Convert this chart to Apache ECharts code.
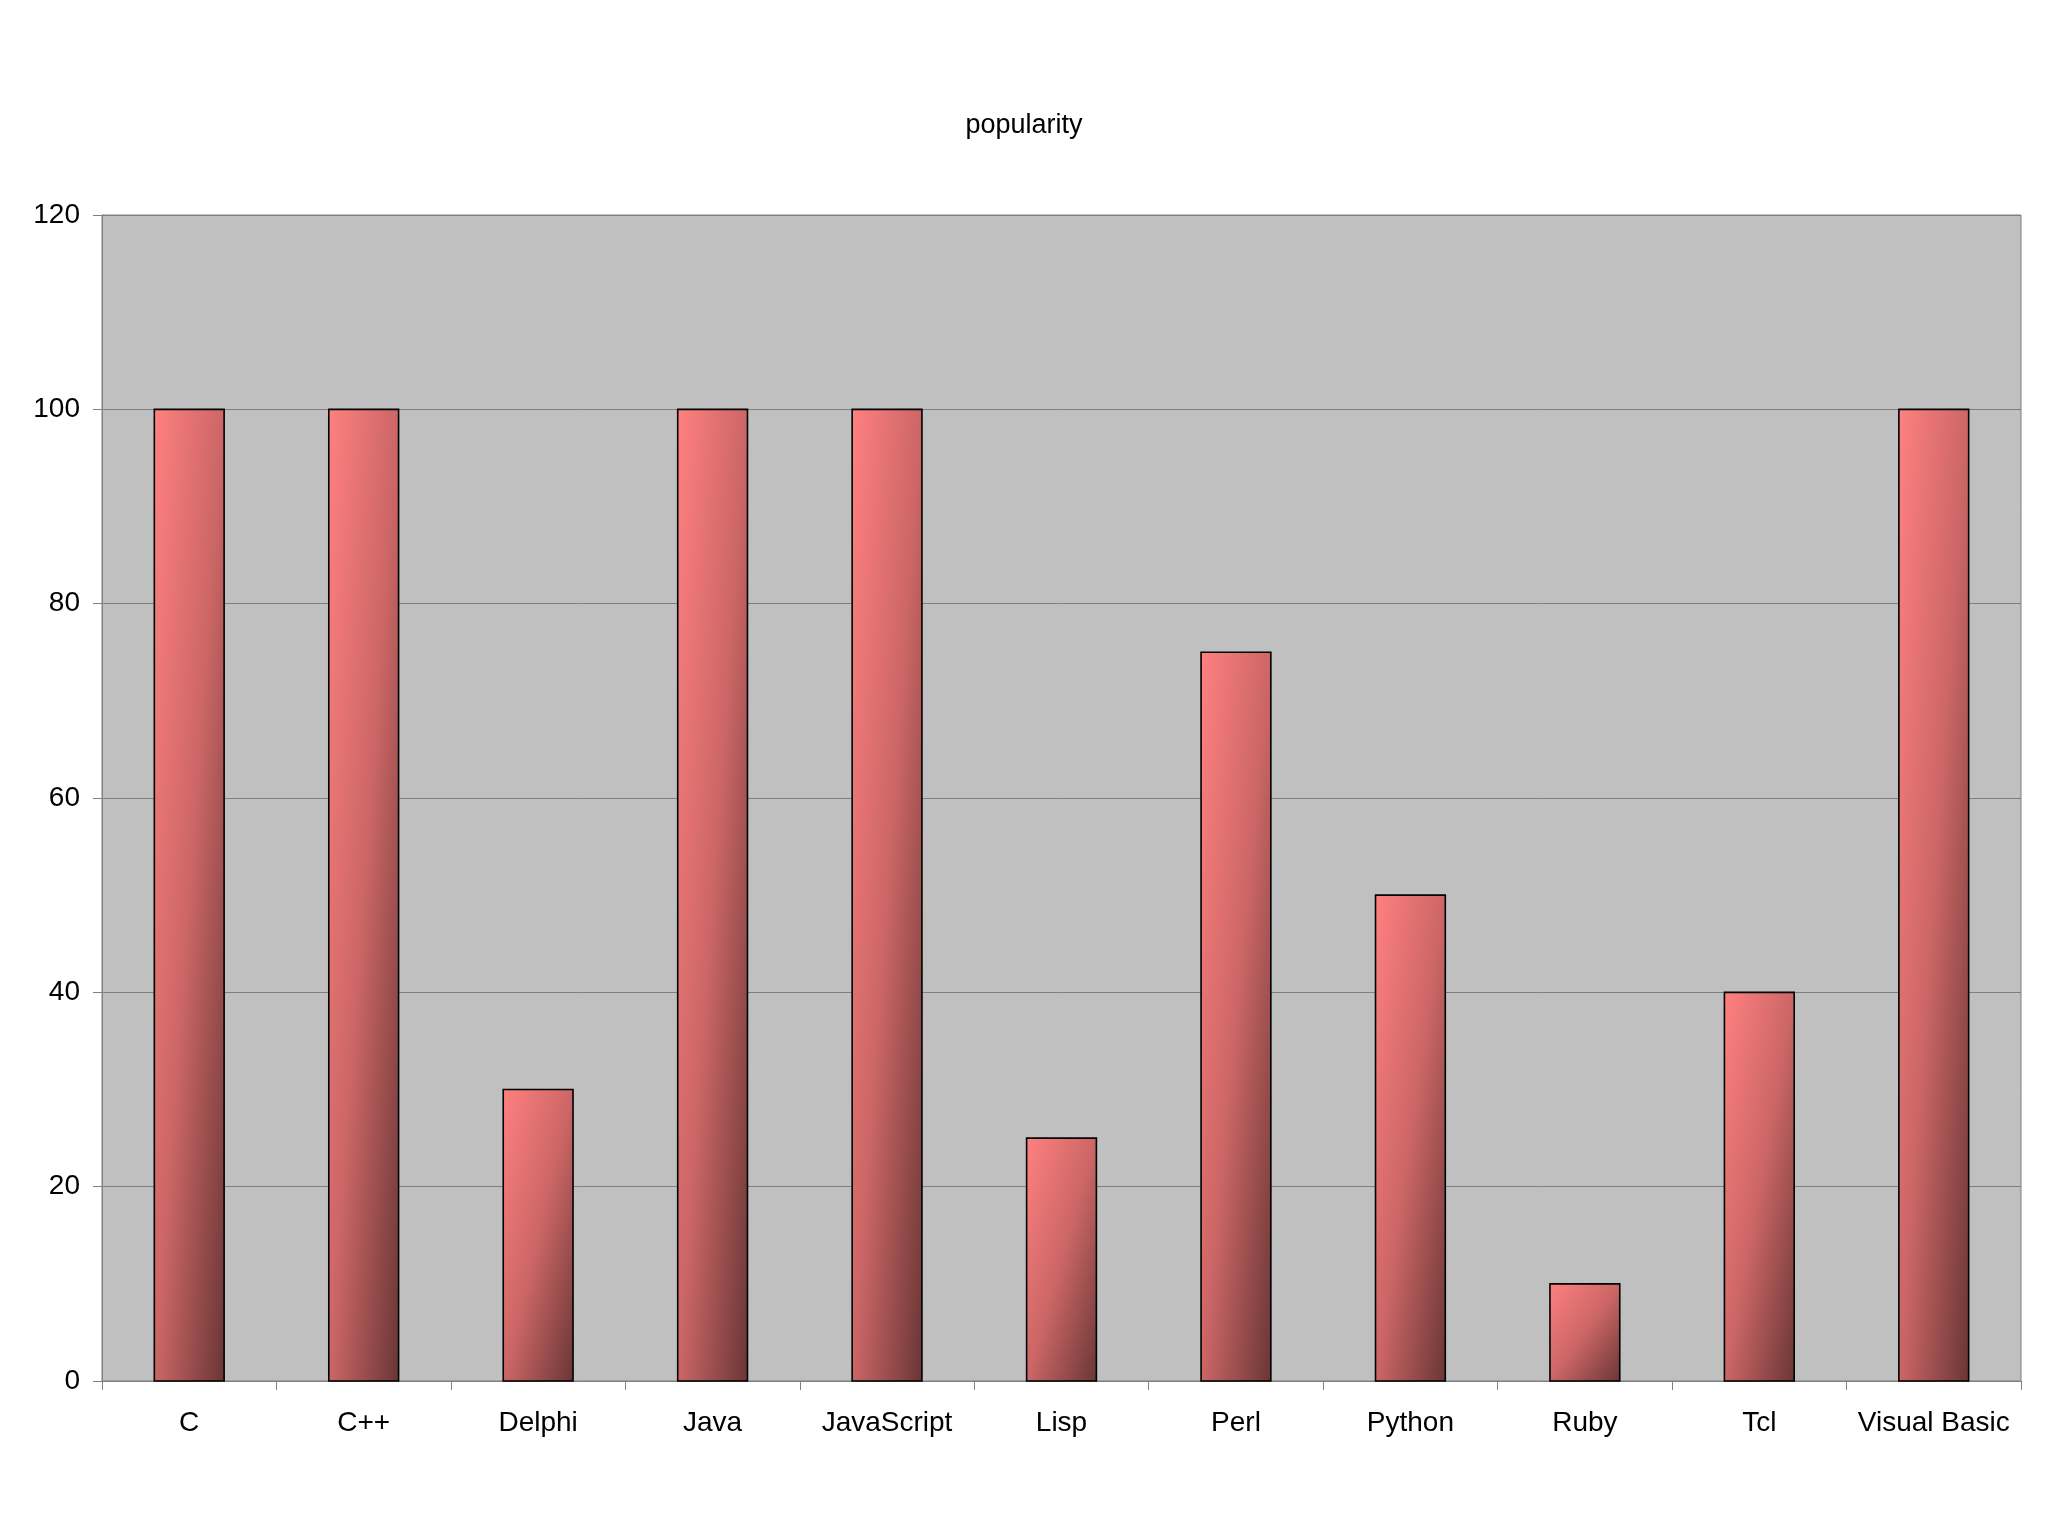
<!DOCTYPE html>
<html>
<head>
<meta charset="utf-8">
<title>popularity</title>
<script src="https://cdn.jsdelivr.net/npm/echarts@6/dist/echarts.min.js"></script>
<style>
  html, body { margin: 0; padding: 0; background: #ffffff; }
  #chart { width: 2048px; height: 1536px; }
</style>
</head>
<body>
<div id="chart"></div>
<script>
// data
const languages = ['C', 'C++', 'Delphi', 'Java', 'JavaScript', 'Lisp', 'Perl', 'Python', 'Ruby', 'Tcl', 'Visual Basic'];
const popularity = [100, 100, 30, 100, 100, 25, 75, 50, 10, 40, 100];
const yTicks = [0, 20, 40, 60, 80, 100, 120];

const FONT = '"Liberation Sans", Arial, sans-serif';
const BAR_RATIO = 0.40;

let myChart = echarts.init(document.getElementById('chart'));

// shading runs corner to corner of each bar (light top-left, dark bottom-right),
// so it is drawn on a unit square that is then stretched to the bar
function barGradient() {
  return new echarts.graphic.LinearGradient(0, 0, 1, 1, [
    { offset: 0, color: '#ff8080' },
    { offset: 0.5, color: '#cc6666' },
    { offset: 1, color: '#6a3636' }
  ]);
}

function renderBar(params, api) {
  const top = api.coord([api.value(0), api.value(1)]);
  const base = api.coord([api.value(0), 0]);
  const w = api.size([1, 0])[0] * BAR_RATIO;
  const h = base[1] - top[1];
  const left = top[0] - w / 2;
  return {
    type: 'group',
    children: [
      {
        type: 'rect',
        x: left, y: top[1], scaleX: w, scaleY: h,
        shape: { x: 0, y: 0, width: 1, height: 1 },
        style: { fill: barGradient() }
      },
      {
        type: 'rect',
        shape: { x: left, y: top[1], width: w, height: h },
        style: { fill: 'none', stroke: '#000000', lineWidth: 1.6 }
      }
    ]
  };
}

let option = {
  backgroundColor: '#ffffff',
  animation: false,
  title: {
    text: 'popularity',
    left: 'center',
    top: 107,
    textStyle: { fontFamily: FONT, fontSize: 27, fontWeight: 'normal', color: '#000000' }
  },
  grid: {
    left: 102,
    right: 27,
    top: 215,
    bottom: 155,
    show: true,
    backgroundColor: '#c0c0c0',
    borderColor: '#808080',
    borderWidth: 1
  },
  xAxis: {
    type: 'category',
    data: languages,
    axisLine: { lineStyle: { color: '#808080', width: 1 } },
    axisTick: { show: true, length: 9, alignWithLabel: false, lineStyle: { color: '#808080' } },
    axisLabel: { margin: 28, fontFamily: FONT, fontSize: 28, color: '#000000', interval: 0 }
  },
  yAxis: {
    type: 'value',
    min: yTicks[0],
    max: yTicks[yTicks.length - 1],
    interval: yTicks[1] - yTicks[0],
    axisLine: { show: true, lineStyle: { color: '#808080', width: 1 } },
    axisTick: { show: true, length: 9, lineStyle: { color: '#808080' } },
    axisLabel: { margin: 22, fontFamily: FONT, fontSize: 28, color: '#000000' },
    splitLine: { show: true, lineStyle: { color: '#808080', width: 1 } }
  },
  series: [
    {
      name: 'popularity',
      type: 'custom',
      renderItem: renderBar,
      encode: { x: 0, y: 1 },
      data: popularity.map((v, i) => [i, v])
    }
  ]
};

myChart.setOption(option);
</script>
</body>
</html>
